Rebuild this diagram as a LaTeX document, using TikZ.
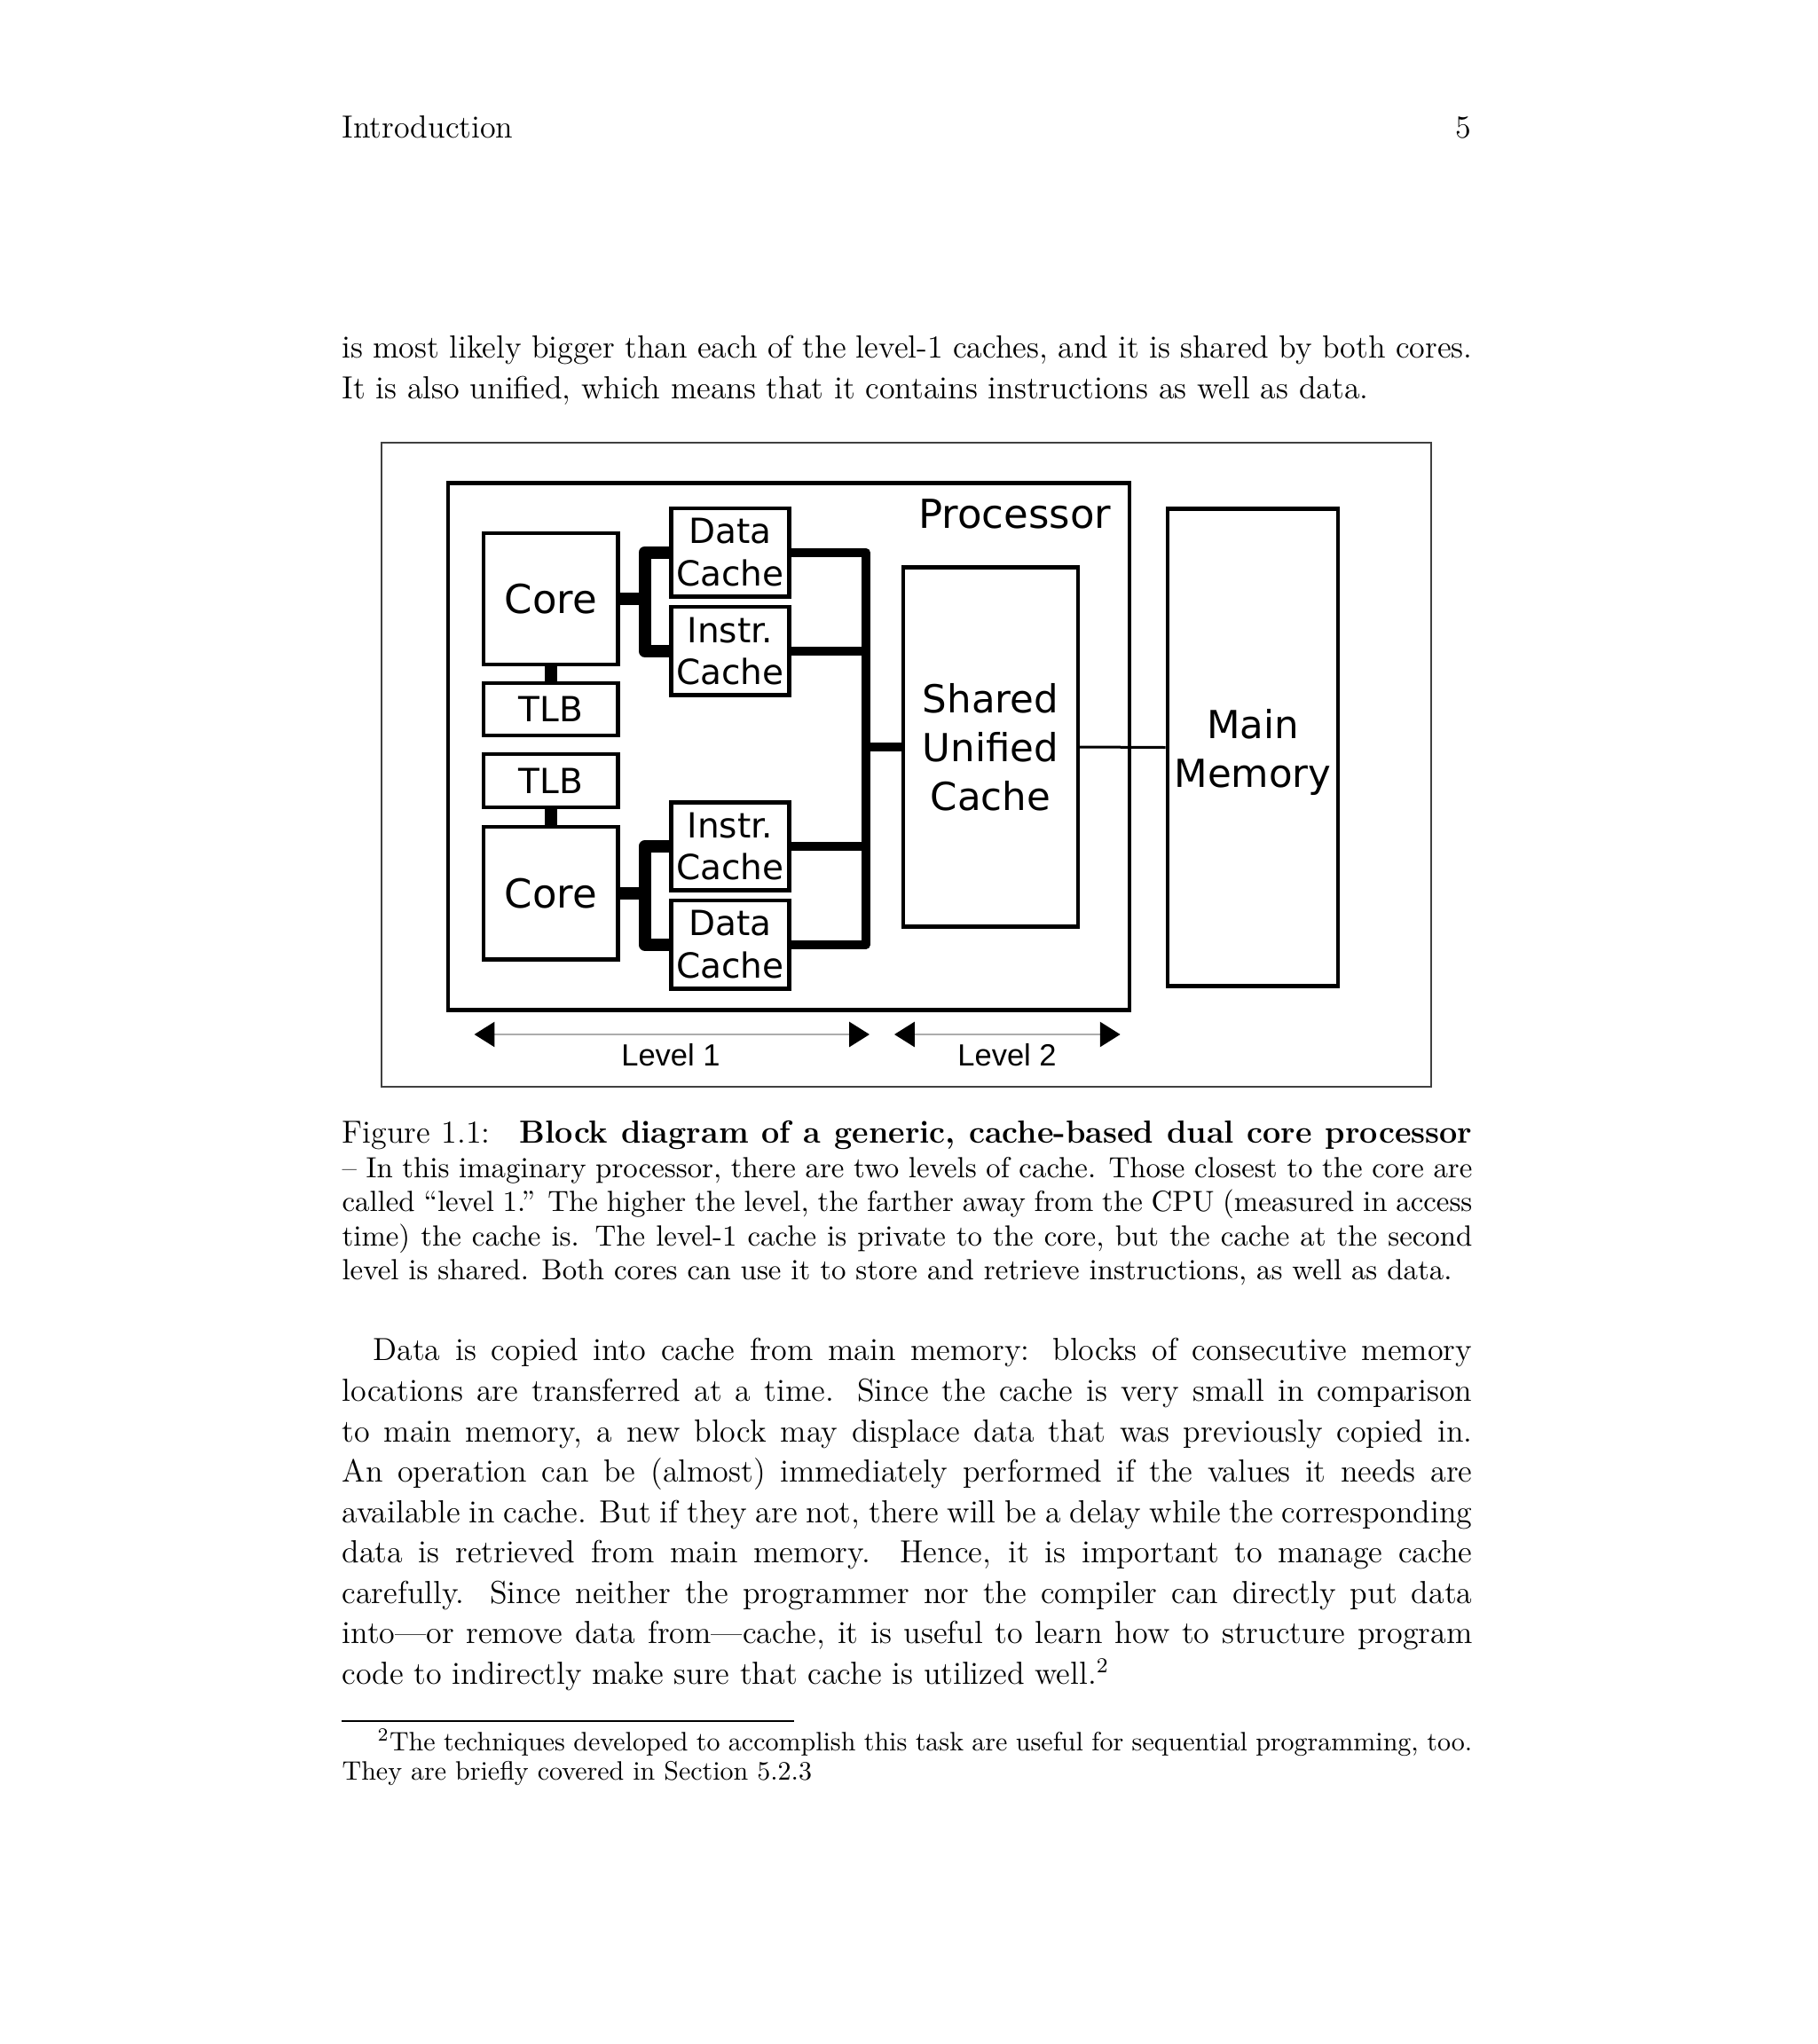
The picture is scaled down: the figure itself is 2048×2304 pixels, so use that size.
\documentclass[tikz,border=0pt]{standalone}
\usepackage{fontspec}
\newfontfamily\dejavu{DejaVu Sans}
\newfontfamily\arialf{Liberation Sans}
\usetikzlibrary{arrows.meta}
\newlength\lntw \setlength\lntw{424.6pt}
\begin{document}
\begin{tikzpicture}[x=0.33333pt,y=-0.33333pt,
  txt/.style={inner sep=0pt, anchor=base west, font=\fontsize{12}{14.5}\selectfont},
  captxt/.style={txt, font=\fontsize{10.95}{13.6}\selectfont},
  fntxt/.style={txt, font=\fontsize{10}{12}\selectfont},
  blk/.style={draw, line width=1.55pt, inner sep=0pt, align=center},
  bigf/.style={font=\dejavu\fontsize{15}{18.4}\selectfont},
  midf/.style={font=\dejavu\fontsize{14.5}{18.3}\selectfont},
  smf/.style={font=\dejavu\fontsize{13}{15.8}\selectfont},
  cthick/.style={line width=4.77pt, line join=round},
  bus/.style={line width=3.4pt, line join=round},
  thinl/.style={line width=1pt},
  lvl/.style={draw=gray!65, line width=0.6pt,
    arrows={Triangle[length=7.6pt,width=9.4pt,color=black,fill=black]-Triangle[length=7.6pt,width=9.4pt,color=black,fill=black]}},
  lvlf/.style={inner sep=0pt, anchor=base, font=\arialf\fontsize{11.5}{13}\selectfont},
  frame/.style={draw=black!75, line width=0.7pt}
]
\useasboundingbox (0,0) rectangle (2048,2304);
\fill[white] (0,0) rectangle (2048,2304);

% header
\node[txt] (hdr) at (385,155) {Introduction};
\node[txt, anchor=base east] (pg) at (1658.7,155) {5};

% paragraph before figure
\node[txt] (p1) at (385,403.3) {\makebox[\lntw][s]{is most likely bigger than each of the level-1 caches, and it is shared by both cores.}};
\node[txt] (p2) at (385,449.3) {It is also unified, which means that it contains instructions as well as data.};

% figure frame
\draw[frame] (430,498.6) rectangle (1613,1225);

% processor
\node[blk, minimum width=256pt, minimum height=197.8pt] (proc) at (889,841.5) {};
\node[bigf, inner sep=0pt, anchor=base east] (proclbl) at (1252.7,595) {Processor};

\node[blk, bigf, minimum width=50.6pt, minimum height=49.3pt] (core1) at (620.8,675) {Core};
\node[blk, smf, minimum width=50.6pt, minimum height=19.7pt] (tlb1) at (620.8,799.5) {TLB};
\node[blk, smf, minimum width=50.6pt, minimum height=20pt] (tlb2) at (620.8,880) {TLB};
\node[blk, bigf, minimum width=50.6pt, minimum height=49.8pt] (core2) at (620.8,1006.7) {Core};

\node[blk, smf, minimum width=44.2pt, minimum height=33.1pt] (dc1) at (823,622.7) {Data\\Cache};
\node[blk, smf, minimum width=44.2pt, minimum height=33.1pt] (ic1) at (823,733.8) {Instr.\\Cache};
\node[blk, smf, minimum width=44.2pt, minimum height=33.1pt] (ic2) at (823,954) {Instr.\\Cache};
\node[blk, smf, minimum width=44.2pt, minimum height=33.1pt] (dc2) at (823,1064.7) {Data\\Cache};

\node[blk, midf, minimum width=65.6pt, minimum height=134.8pt] (shared) at (1116.5,842) {Shared\\Unified\\Cache};
\node[blk, midf, minimum width=64.1pt, minimum height=179.3pt] (mm) at (1412,842.5) {\rule{0pt}{14.6pt}Main\\Memory};

\coordinate (j1) at (726.7,675);
\coordinate (j2) at (726.7,1006.7);
\coordinate (b) at (975.7,842);

\draw[cthick] (core1.east) -- (j1);
\draw[cthick] (dc1.west) -| (j1) |- (ic1.west);
\draw[cthick] (core2.east) -- (j2);
\draw[cthick] (ic2.west) -| (j2) |- (dc2.west);
\draw[cthick] (core1.south) -- (tlb1.north);
\draw[cthick] (tlb2.south) -- (core2.north);

\draw[bus] (dc1.east) -| (b) |- (dc2.east);
\draw[bus] (ic1.east) -- (ic1.east -| b);
\draw[bus] (ic2.east) -- (ic2.east -| b);
\draw[bus] (b) -- (shared.west);
\draw[thinl] (shared.east) -- (mm.west);

\coordinate (l1a) at (534.6,1166);
\coordinate (l1b) at (980,1166);
\coordinate (l2a) at (1008,1166);
\coordinate (l2b) at (1262.6,1166);
\draw[lvl] (l1a) -- (l1b);
\draw[lvl] (l2a) -- (l2b);
\node[lvlf] (lv1) at (756,1201.5) {Level 1};
\node[lvlf] (lv2) at (1135,1201.5) {Level 2};

% caption
\node[txt] (c1) at (385,1288.3) {\makebox[\lntw][s]{Figure 1.1:\hspace{11pt}\textbf{Block diagram of a generic, cache-based dual core processor}}};
\node[captxt] (c2) at (385,1327.7) {\makebox[\lntw][s]{-- In this imaginary processor, there are two levels of cache. Those closest to the core are}};
\node[captxt] (c3) at (385,1365) {\makebox[\lntw][s]{called ``level 1.'' The higher the level, the farther away from the CPU (measured in access}};
\node[captxt] (c4) at (385,1404.3) {\makebox[\lntw][s]{time) the cache is. The level-1 cache is private to the core, but the cache at the second}};
\node[captxt] (c5) at (385,1442.3) {level is shared. Both cores can use it to store and retrieve instructions, as well as data.};

% body paragraph
\node[txt] (b1) at (420,1533.3) {\makebox[412.9pt][s]{Data is copied into cache from main memory: blocks of consecutive memory}};
\node[txt] (b2) at (385,1579) {\makebox[\lntw][s]{locations are transferred at a time. Since the cache is very small in comparison}};
\node[txt] (b3) at (385,1625) {\makebox[\lntw][s]{to main memory, a new block may displace data that was previously copied in.}};
\node[txt] (b4) at (385,1670.5) {\makebox[\lntw][s]{An operation can be (almost) immediately performed if the values it needs are}};
\node[txt] (b5) at (385,1716) {\makebox[\lntw][s]{available in cache. But if they are not, there will be a delay while the corresponding}};
\node[txt] (b6) at (385,1761.7) {\makebox[\lntw][s]{data is retrieved from main memory. Hence, it is important to manage cache}};
\node[txt] (b7) at (385,1807.3) {\makebox[\lntw][s]{carefully. Since neither the programmer nor the compiler can directly put data}};
\node[txt] (b8) at (385,1852.7) {\makebox[\lntw][s]{into---or remove data from---cache, it is useful to learn how to structure program}};
\node[txt] (b9) at (385,1898.3) {code to indirectly make sure that cache is utilized well.\textsuperscript{2}};

% footnote
\draw[line width=0.4pt] (385,1940) -- (894.7,1940);
\node[fntxt] (f1) at (425,1973.3) {\makebox[411.2pt][s]{\textsuperscript{2}The techniques developed to accomplish this task are useful for sequential programming, too.}};
\node[fntxt] (f2) at (385,2006) {They are briefly covered in Section 5.2.3};
\end{tikzpicture}
\end{document}
